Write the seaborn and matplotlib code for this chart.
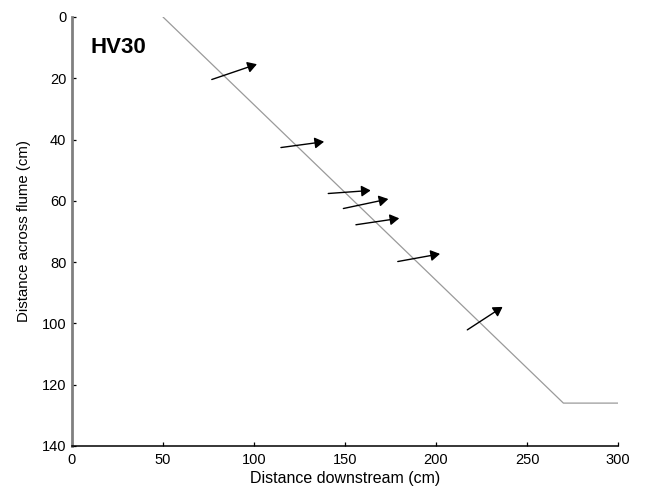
import matplotlib
matplotlib.use("Agg")
import matplotlib.pyplot as plt
import seaborn as sns
import pandas as pd

# Bank line of the flume (downstream distance, cross-flume distance)
bank_x = [50, 270, 300]
bank_y = [0, 126, 126]

# Velocity vectors: tail and tip positions in cm
tail_x = [76.8, 114.8, 140.8, 149.1, 156.0, 179.0, 217.2]
tail_y = [20.4, 42.6, 57.6, 62.5, 67.8, 79.8, 102.1]
tip_x = [101.6, 138.5, 164.1, 173.8, 179.8, 202.2, 236.6]
tip_y = [15.4, 40.7, 56.6, 59.4, 65.7, 77.3, 94.6]

x_ticks = [0, 50, 100, 150, 200, 250, 300]
y_ticks = [0, 20, 40, 60, 80, 100, 120, 140]

sns.set_style("white")
plt.rcParams["font.family"] = ["Liberation Sans", "DejaVu Sans"]
plt.rcParams["text.color"] = "black"
plt.rcParams["axes.labelcolor"] = "black"
plt.rcParams["xtick.color"] = "black"
plt.rcParams["ytick.color"] = "black"

fig = plt.figure(figsize=(6.46, 4.93), dpi=100)
ax = fig.add_axes([72 / 646, 1 - 446 / 493, 546 / 646, 429 / 493])

bank = pd.DataFrame({"x": bank_x, "y": bank_y})
sns.lineplot(data=bank, x="x", y="y", sort=False, estimator=None,
             color="#9a9a9a", linewidth=0.9, ax=ax)

for x0, y0, x1, y1 in zip(tail_x, tail_y, tip_x, tip_y):
    ax.annotate("", xy=(x1, y1), xytext=(x0, y0),
                arrowprops=dict(arrowstyle="-|>,head_length=0.55,head_width=0.33",
                                color="black", lw=1.0, shrinkA=0, shrinkB=0,
                                mutation_scale=10))

ax.text(10, 10, "HV30", fontsize=16, fontweight="bold", ha="left", va="center",
        color="black")

ax.set_xlim(0, 300)
ax.set_ylim(140, 0)
ax.set_xticks(x_ticks)
ax.set_yticks(y_ticks)

ax.set_xlabel("Distance downstream (cm)", fontsize=11.5, labelpad=3)
ax.set_ylabel("Distance across flume (cm)", fontsize=10.8, labelpad=8)

for side in ("top", "right"):
    ax.spines[side].set_visible(False)
ax.spines["left"].set_color("#808080")
ax.spines["left"].set_linewidth(2.0)
ax.spines["bottom"].set_color("black")
ax.spines["bottom"].set_linewidth(1.1)

ax.tick_params(axis="both", direction="in", length=3, width=0.9,
               color="black", labelcolor="black", labelsize=10.5,
               bottom=True, left=True)
ax.tick_params(axis="x", pad=5)
ax.tick_params(axis="y", pad=4)

fig.savefig("out.png", dpi=100)
